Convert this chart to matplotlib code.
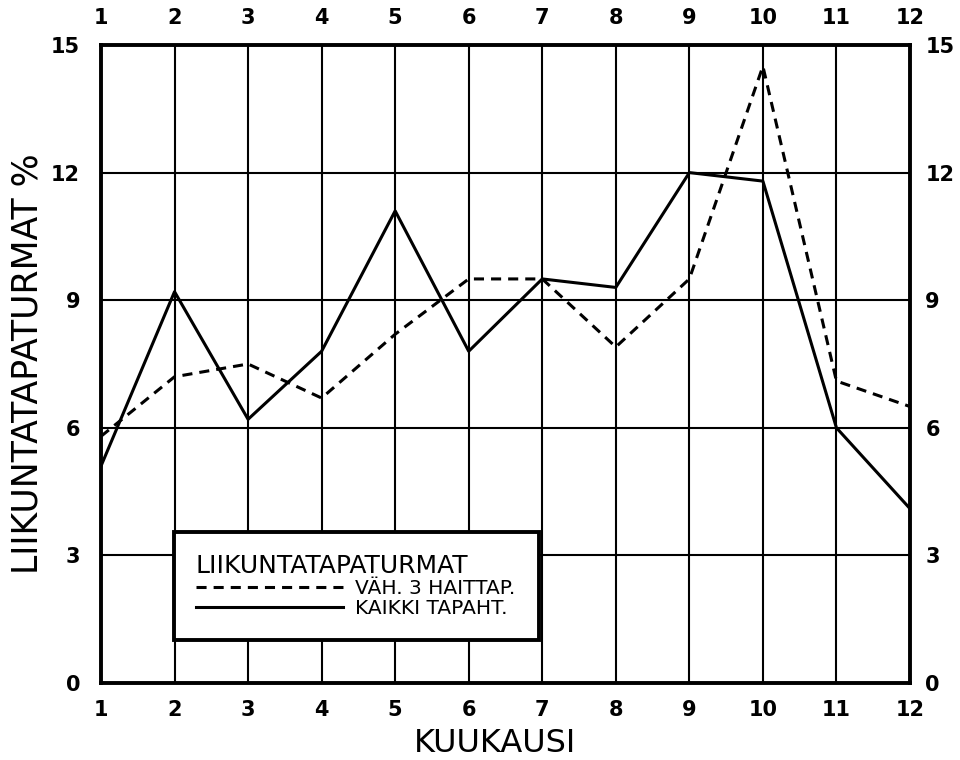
import matplotlib
matplotlib.use('Agg')
import matplotlib.pyplot as plt

# ── data ─────────────────────────────────────────────────────────────────────
months = [1, 2, 3, 4, 5, 6, 7, 8, 9, 10, 11, 12]
kaikki = [5.1, 9.2, 6.2, 7.8, 11.1, 7.8, 9.5, 9.3, 12.0, 11.8, 6.0, 4.1]
vah3 = [5.8, 7.2, 7.5, 6.7, 8.2, 9.5, 9.5, 7.9, 9.5, 14.5, 7.1, 6.5]
yticks = [0, 3, 6, 9, 12, 15]

plt.rcParams['font.family'] = ['DejaVu Sans']

fig = plt.figure(figsize=(9.6, 7.6), dpi=100)
ax = fig.add_axes([0.1052, 0.1013, 0.8427, 0.8395])

ax.plot(months, vah3, color='black', lw=2.2, dashes=(3.3, 2.3),
        label='VÄH. 3 HAITTAP.')
ax.plot(months, kaikki, color='black', lw=2.2, label='KAIKKI TAPAHT.')

ax.set_xlim(1, 12)
ax.set_ylim(0, 15)
ax.set_xticks(months)
ax.set_yticks(yticks)
ax.grid(True, color='black', lw=1.5)
for s in ax.spines.values():
    s.set_linewidth(2.8)

ax.tick_params(length=0, labelsize=15)
ax.tick_params(axis='x', pad=12, labeltop=True)
ax.tick_params(axis='y', pad=15)

# right-hand y labels sit closer to the frame
ax2 = ax.twinx()
ax2.set_ylim(ax.get_ylim())
ax2.set_yticks(yticks)
ax2.tick_params(length=0, labelsize=15, pad=11)
for s in ax2.spines.values():
    s.set_visible(False)
for t in ax.xaxis.get_major_ticks() + ax.yaxis.get_major_ticks() + ax2.yaxis.get_major_ticks():
    t.label1.set_fontweight('bold')
    t.label2.set_fontweight('bold')

ax.set_xlabel('KUUKAUSI', fontsize=23)
ax.xaxis.set_label_coords(0.487, -0.07)
ax.set_ylabel('LIIKUNTATAPATURMAT %', fontsize=25)
ax.yaxis.set_label_coords(-0.07, 0.5)

leg = ax.legend(title='LIIKUNTATAPATURMAT', loc='lower left',
                bbox_to_anchor=(0.090, 0.067, 0.452, 0.16), mode='expand',
                borderaxespad=0, fontsize=14.5, title_fontsize=18,
                handlelength=7.3, handletextpad=0.6, fancybox=False,
                framealpha=1, edgecolor='black', borderpad=1.1,
                labelspacing=0.05, alignment='left')
leg.get_frame().set_linewidth(2.8)
leg.set_zorder(5)

fig.savefig('out.png', dpi=100)
